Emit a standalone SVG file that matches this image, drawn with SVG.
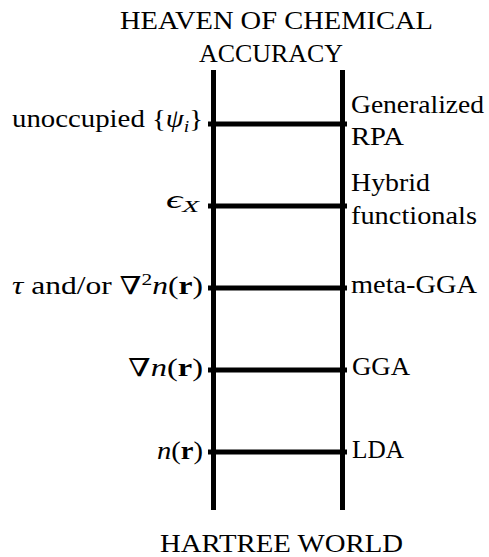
<svg xmlns="http://www.w3.org/2000/svg" width="489" height="557" viewBox="0 0 489 557" font-family="'Liberation Serif', 'Times New Roman', 'DejaVu Serif', serif">
<style>
text{font-family:'Liberation Serif','Times New Roman','DejaVu Serif',serif;font-size:25px;fill:#000}
.i{font-style:italic}
.b{font-weight:bold}
.s{font-size:17px}
.rail{stroke:#000;stroke-width:5;fill:none}
.rung{stroke:#000;stroke-width:5;fill:none}
</style>
<rect width="489" height="557" fill="#fff"/>
<g id="title-top">
<text x="120" y="29" textLength="313" lengthAdjust="spacingAndGlyphs">HEAVEN OF CHEMICAL</text>
<text x="199" y="62" textLength="144" lengthAdjust="spacingAndGlyphs">ACCURACY</text>
</g>
<g id="title-bottom">
<text x="160" y="552" textLength="243" lengthAdjust="spacingAndGlyphs">HARTREE WORLD</text>
</g>
<g id="connectors">
<line class="rail" x1="213.5" y1="70" x2="213.5" y2="510"/>
<line class="rail" x1="342.5" y1="70" x2="342.5" y2="510"/>
<line class="rung" x1="208" y1="124" x2="347" y2="124"/>
<line class="rung" x1="208" y1="206" x2="347" y2="206"/>
<line class="rung" x1="208" y1="288" x2="347" y2="288"/>
<line class="rung" x1="208" y1="370" x2="347" y2="370"/>
<line class="rung" x1="208" y1="452" x2="347" y2="452"/>
</g>
<g id="rung-rpa">
<text x="12" y="127" textLength="191" lengthAdjust="spacingAndGlyphs">unoccupied {<tspan class="i">ψ</tspan><tspan class="i s" dy="5">i</tspan><tspan dy="-5">}</tspan></text>
<text x="351" y="113" textLength="133" lengthAdjust="spacingAndGlyphs">Generalized</text>
<text x="351" y="145" textLength="53" lengthAdjust="spacingAndGlyphs">RPA</text>
</g>
<g id="rung-hybrid">
<text x="166" y="208" textLength="33" lengthAdjust="spacingAndGlyphs"><tspan class="i">ϵ</tspan><tspan class="i s" dy="4">X</tspan></text>
<text x="351" y="191" textLength="79" lengthAdjust="spacingAndGlyphs">Hybrid</text>
<text x="351" y="224" textLength="126" lengthAdjust="spacingAndGlyphs">functionals</text>
</g>
<g id="rung-metagga">
<text x="12" y="294" textLength="191" lengthAdjust="spacingAndGlyphs"><tspan class="i">τ</tspan> and/or ∇<tspan class="s" dy="-9">2</tspan><tspan class="i" dy="9">n</tspan>(<tspan class="b">r</tspan>)</text>
<text x="351" y="293" textLength="126" lengthAdjust="spacingAndGlyphs">meta-GGA</text>
</g>
<g id="rung-gga">
<text x="128" y="376" textLength="75" lengthAdjust="spacingAndGlyphs">∇<tspan class="i">n</tspan>(<tspan class="b">r</tspan>)</text>
<text x="352" y="375" textLength="58" lengthAdjust="spacingAndGlyphs">GGA</text>
</g>
<g id="rung-lda">
<text x="157" y="459" textLength="46" lengthAdjust="spacingAndGlyphs"><tspan class="i">n</tspan>(<tspan class="b">r</tspan>)</text>
<text x="352" y="458" textLength="52" lengthAdjust="spacingAndGlyphs">LDA</text>
</g>
</svg>
